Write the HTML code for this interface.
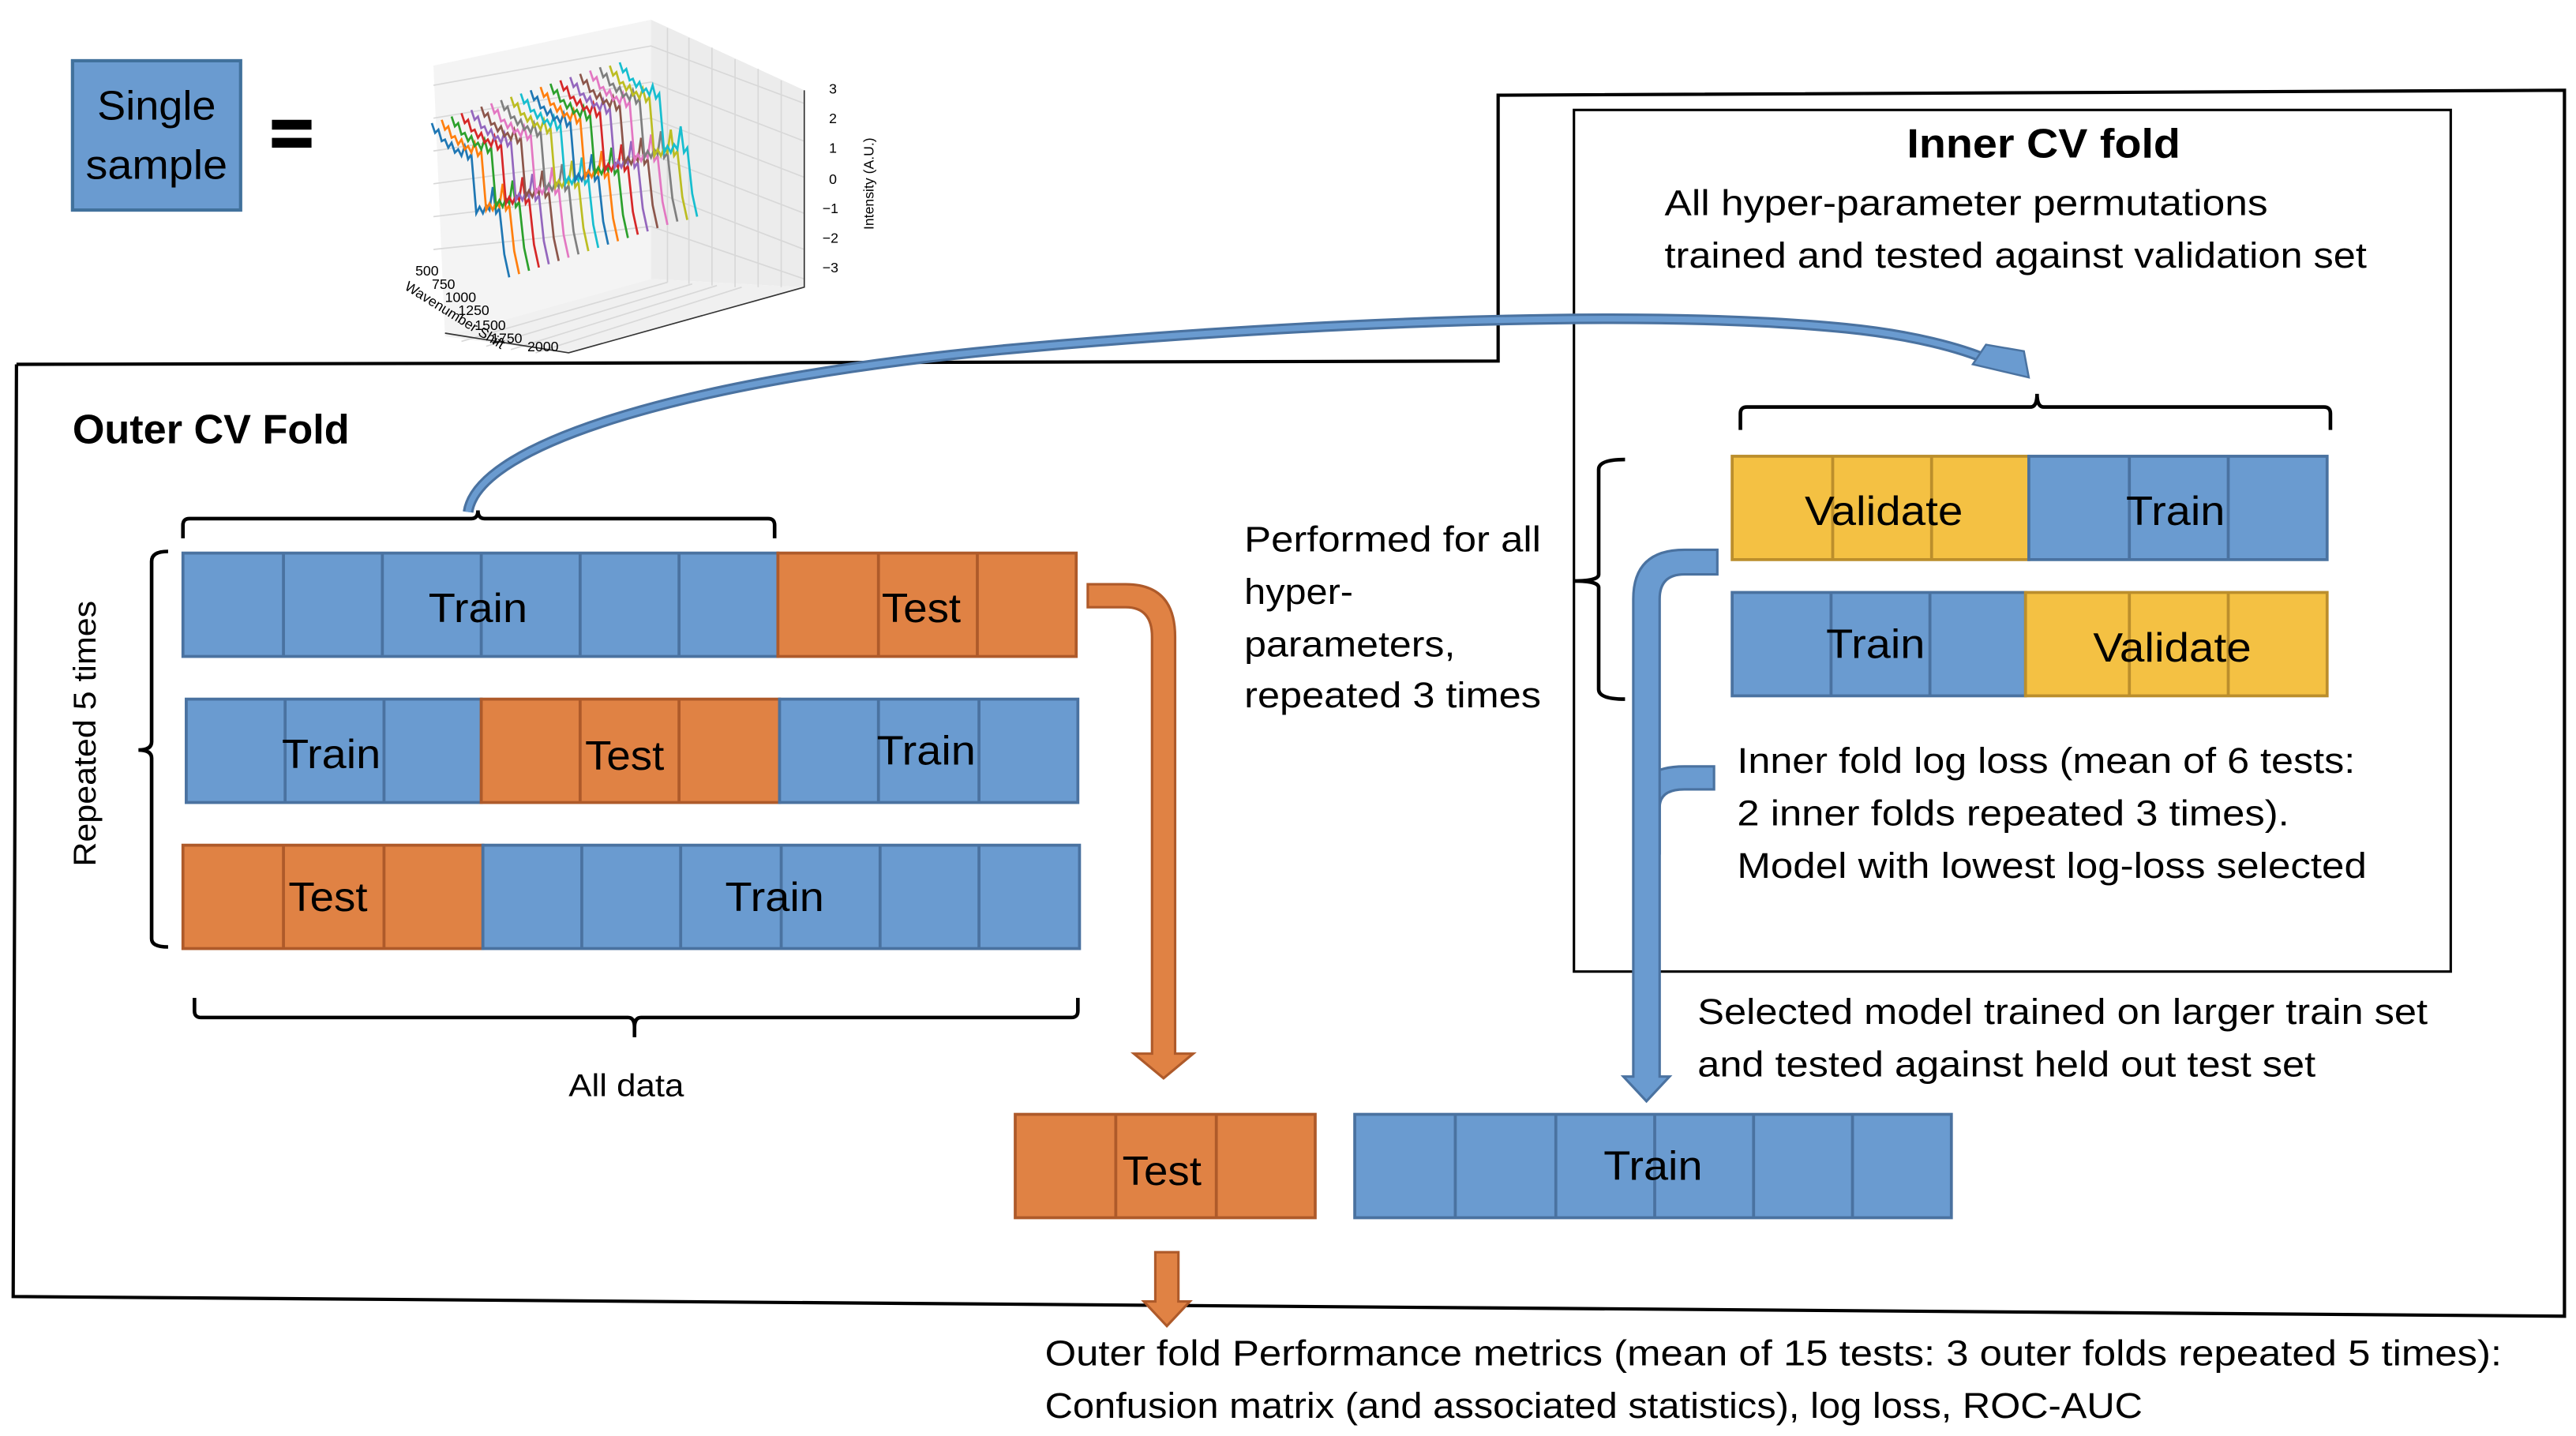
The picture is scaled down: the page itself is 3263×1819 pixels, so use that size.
<!DOCTYPE html>
<html><head><meta charset="utf-8"><style>
html,body{margin:0;padding:0;background:#fff;}
svg{display:block;}
text{font-family:"Liberation Sans",sans-serif;fill:#000;}
</style></head><body>
<svg width="3263" height="1819" viewBox="0 0 1563 875" preserveAspectRatio="none" xmlns="http://www.w3.org/2000/svg">
<defs>
<path id="sp" d="M0,0 l2,6 l2,-2 l2,7 l2,-1 l2,5 l2,-3 l2,6 l2,-2 l2,4 l2,-6 l2,8 l2,-3 l3,36 l2,-4 l2,4 l2,-5 l2,3 l2,-14 l2,16 l2,-3 l3,28 l3,14"/>
</defs>
<!-- Single sample -->
<rect x="44" y="37" width="102" height="91" fill="#6a9bd0" stroke="#41719c" stroke-width="2"/>
<text x="95" y="73" font-size="25" text-anchor="middle" textLength="72" lengthAdjust="spacingAndGlyphs">Single</text>
<text x="95" y="109" font-size="25" text-anchor="middle" textLength="86" lengthAdjust="spacingAndGlyphs">sample</text>
<rect x="165" y="73" width="24" height="6" fill="#000"/>
<rect x="165" y="84" width="24" height="6" fill="#000"/>
<!-- plot -->
<g>
<polygon points="263,40 395,12 395,170 270,205" fill="#f4f4f4"/>
<polygon points="395,12 488,55 488,175 395,170" fill="#ececec"/>
<polygon points="270,205 395,170 488,175 345,215" fill="#f0f0f0"/>
<g stroke="#d8d8d8" stroke-width="0.8" fill="none">
<path d="M263,52 L395,28 L488,63 M263,72 L395,50 L488,86 M263,92 L395,72 L488,108 M263,112 L395,94 L488,130 M263,132 L395,116 L488,152 M263,152 L395,138 L488,170"/>
<path d="M405,17 L405,172 M418,23 L418,173 M432,29 L432,174 M446,36 L446,175 M460,42 L460,175 M474,49 L474,175"/>
<path d="M280,208 L405,172 M295,211 L420,173 M310,213 L435,174 M325,215 L450,175"/>
</g>
<path d="M270,203 L345,215 L488,175 L488,55" stroke="#333" stroke-width="0.8" fill="none"/>
<g fill="none" stroke-width="1.3">
<use href="#sp" transform="translate(262,75)" stroke="#1f77b4"/>
<use href="#sp" transform="translate(268,73)" stroke="#ff7f0e"/>
<use href="#sp" transform="translate(274,71)" stroke="#2ca02c"/>
<use href="#sp" transform="translate(280,69)" stroke="#d62728"/>
<use href="#sp" transform="translate(286,67)" stroke="#9467bd"/>
<use href="#sp" transform="translate(292,65)" stroke="#8c564b"/>
<use href="#sp" transform="translate(298,63)" stroke="#e377c2"/>
<use href="#sp" transform="translate(304,61)" stroke="#7f7f7f"/>
<use href="#sp" transform="translate(310,59)" stroke="#bcbd22"/>
<use href="#sp" transform="translate(316,57)" stroke="#17becf"/>
<use href="#sp" transform="translate(322,55)" stroke="#1f77b4"/>
<use href="#sp" transform="translate(328,53)" stroke="#ff7f0e"/>
<use href="#sp" transform="translate(334,51)" stroke="#2ca02c"/>
<use href="#sp" transform="translate(340,49)" stroke="#d62728"/>
<use href="#sp" transform="translate(346,47)" stroke="#9467bd"/>
<use href="#sp" transform="translate(352,45)" stroke="#8c564b"/>
<use href="#sp" transform="translate(358,43)" stroke="#e377c2"/>
<use href="#sp" transform="translate(364,41)" stroke="#7f7f7f"/>
<use href="#sp" transform="translate(370,40)" stroke="#bcbd22"/>
<use href="#sp" transform="translate(376,38)" stroke="#17becf"/>
</g>
<g font-size="8.5">
<text x="503" y="57">3</text><text x="503" y="75">2</text><text x="503" y="93">1</text><text x="503" y="112">0</text><text x="499" y="130">−1</text><text x="499" y="148">−2</text><text x="499" y="166">−3</text>
<text x="252" y="168">500</text><text x="262" y="176">750</text><text x="270" y="184">1000</text><text x="278" y="192">1250</text><text x="288" y="201">1500</text><text x="298" y="209">1750</text><text x="320" y="214">2000</text>
<text transform="translate(245,176) rotate(32)">Wavenumber Shift</text>
<text transform="translate(530,140) rotate(-90)">Intensity (A.U.)</text>
</g>
</g>
<!-- outer fold outline -->
<path d="M10,222 L909,220 L909,58 L1556,55 L1556,802 L8,790 L10,222" fill="none" stroke="#000" stroke-width="2"/>
<!-- inner box -->
<rect x="955" y="67" width="532" height="525" fill="none" stroke="#000" stroke-width="1.5"/>
<text x="1240" y="96" font-size="25" font-weight="bold" text-anchor="middle" textLength="166" lengthAdjust="spacingAndGlyphs">Inner CV  fold</text>
<text x="1010" y="131" font-size="22" textLength="366" lengthAdjust="spacingAndGlyphs">All hyper-parameter permutations</text>
<text x="1010" y="163" font-size="22" textLength="426" lengthAdjust="spacingAndGlyphs">trained and tested against validation set</text>
<text x="44" y="270" font-size="25" font-weight="bold" textLength="168" lengthAdjust="spacingAndGlyphs">Outer CV Fold</text>
<!-- braces -->
<g fill="none" stroke="#000" stroke-width="2.2">
<path d="M111,328 L111,320 Q111,316 115,316 L286,316 Q290,316 290,311 Q290,316 294,316 L466,316 Q470,316 470,320 L470,328"/>
<path d="M102,336 Q92,336 92,342 L92,452 Q92,457 84,457 Q92,457 92,462 L92,572 Q92,577 102,577"/>
<path d="M118,608 L118,616 Q118,620 122,620 L381,620 Q385,620 385,626 L385,632 M385,626 Q385,620 389,620 L650,620 Q654,620 654,616 L654,608"/>
<path d="M1056,262 L1056,252 Q1056,248 1060,248 L1232,248 Q1236,248 1236,240 Q1236,248 1240,248 L1410,248 Q1414,248 1414,252 L1414,262"/>
<path d="M986,280 Q970,280 970,286 L970,350 Q970,354 955,354 Q970,354 970,358 L970,420 Q970,426 986,426"/>
</g>
<text transform="translate(58,447) rotate(-90)" font-size="19" text-anchor="middle" textLength="162" lengthAdjust="spacingAndGlyphs">Repeated 5 times</text>
<text x="380" y="668" font-size="19" text-anchor="middle" textLength="70" lengthAdjust="spacingAndGlyphs">All data</text>
<!-- outer rows -->
<g stroke-width="1.8">
<rect x="111" y="337" width="361" height="63" fill="#6a9bd0" stroke="#4a72a0"/>
<rect x="472" y="337" width="181" height="63" fill="#e08244" stroke="#ae5a2a"/>
<path d="M172,337V400M232,337V400M292,337V400M352,337V400M412,337V400" stroke="#4a72a0"/>
<path d="M533,337V400M593,337V400" stroke="#ae5a2a"/>
<rect x="113" y="426" width="179" height="63" fill="#6a9bd0" stroke="#4a72a0"/>
<rect x="292" y="426" width="181" height="63" fill="#e08244" stroke="#ae5a2a"/>
<rect x="473" y="426" width="181" height="63" fill="#6a9bd0" stroke="#4a72a0"/>
<path d="M173,426V489M233,426V489M533,426V489M594,426V489" stroke="#4a72a0"/>
<path d="M352,426V489M412,426V489" stroke="#ae5a2a"/>
<rect x="111" y="515" width="182" height="63" fill="#e08244" stroke="#ae5a2a"/>
<rect x="293" y="515" width="362" height="63" fill="#6a9bd0" stroke="#4a72a0"/>
<path d="M172,515V578M233,515V578" stroke="#ae5a2a"/>
<path d="M353,515V578M413,515V578M474,515V578M534,515V578M594,515V578" stroke="#4a72a0"/>
<rect x="616" y="679" width="182" height="63" fill="#e08244" stroke="#ae5a2a"/>
<path d="M677,679V742M738,679V742" stroke="#ae5a2a"/>
<rect x="822" y="679" width="362" height="63" fill="#6a9bd0" stroke="#4a72a0"/>
<path d="M883,679V742M944,679V742M1004,679V742M1064,679V742M1124,679V742" stroke="#4a72a0"/>
<rect x="1051" y="278" width="180" height="63" fill="#f4c143" stroke="#bb8e2c"/>
<rect x="1231" y="278" width="181" height="63" fill="#6a9bd0" stroke="#4a72a0"/>
<path d="M1112,278V341M1172,278V341" stroke="#bb8e2c"/>
<path d="M1292,278V341M1352,278V341" stroke="#4a72a0"/>
<rect x="1051" y="361" width="178" height="63" fill="#6a9bd0" stroke="#4a72a0"/>
<rect x="1229" y="361" width="183" height="63" fill="#f4c143" stroke="#bb8e2c"/>
<path d="M1111,361V424M1171,361V424" stroke="#4a72a0"/>
<path d="M1292,361V424M1352,361V424" stroke="#bb8e2c"/>
</g>
<g font-size="25" text-anchor="middle">
<text x="290" y="379" textLength="60" lengthAdjust="spacingAndGlyphs">Train</text>
<text x="559" y="379" textLength="48" lengthAdjust="spacingAndGlyphs">Test</text>
<text x="201" y="468" textLength="60" lengthAdjust="spacingAndGlyphs">Train</text>
<text x="379" y="469" textLength="48" lengthAdjust="spacingAndGlyphs">Test</text>
<text x="562" y="466" textLength="60" lengthAdjust="spacingAndGlyphs">Train</text>
<text x="199" y="555" textLength="48" lengthAdjust="spacingAndGlyphs">Test</text>
<text x="470" y="555" textLength="60" lengthAdjust="spacingAndGlyphs">Train</text>
<text x="705" y="722" textLength="48" lengthAdjust="spacingAndGlyphs">Test</text>
<text x="1003" y="719" textLength="60" lengthAdjust="spacingAndGlyphs">Train</text>
<text x="1143" y="320" textLength="96" lengthAdjust="spacingAndGlyphs">Validate</text>
<text x="1320" y="320" textLength="60" lengthAdjust="spacingAndGlyphs">Train</text>
<text x="1138" y="401" textLength="60" lengthAdjust="spacingAndGlyphs">Train</text>
<text x="1318" y="403" textLength="96" lengthAdjust="spacingAndGlyphs">Validate</text>
</g>
<g font-size="22">
<text x="755" y="336" textLength="180" lengthAdjust="spacingAndGlyphs">Performed for all</text>
<text x="755" y="368" textLength="66" lengthAdjust="spacingAndGlyphs">hyper-</text>
<text x="755" y="400" textLength="128" lengthAdjust="spacingAndGlyphs">parameters,</text>
<text x="755" y="431" textLength="180" lengthAdjust="spacingAndGlyphs">repeated 3 times</text>
<text x="1054" y="471" textLength="375" lengthAdjust="spacingAndGlyphs">Inner fold log loss (mean of 6 tests:</text>
<text x="1054" y="503" textLength="335" lengthAdjust="spacingAndGlyphs">2 inner folds repeated 3 times).</text>
<text x="1054" y="535" textLength="382" lengthAdjust="spacingAndGlyphs">Model with lowest log-loss selected</text>
<text x="1030" y="624" textLength="443" lengthAdjust="spacingAndGlyphs">Selected model trained on larger train set</text>
<text x="1030" y="656" textLength="375" lengthAdjust="spacingAndGlyphs">and tested against held out test set</text>
<text x="634" y="832" textLength="884" lengthAdjust="spacingAndGlyphs">Outer fold Performance metrics (mean of 15 tests: 3 outer folds repeated 5 times):</text>
<text x="634" y="864" textLength="666" lengthAdjust="spacingAndGlyphs">Confusion matrix (and associated statistics), log loss, ROC-AUC</text>
</g>
<!-- orange arrow -->
<path d="M660,370 L683,370 Q699,370 699,388 L699,642 L688,642 L706,657 L724,642 L713,642 L713,388 Q713,356 683,356 L660,356 Z" fill="#e08244" stroke="#ae5a2a" stroke-width="1.5"/>
<path d="M701,763 L715,763 L715,793 L722,793 L708,808 L694,793 L701,793 Z" fill="#e08244" stroke="#ae5a2a" stroke-width="1.5"/>
<!-- blue vertical arrow -->
<path d="M1040,467 L1022,467 Q992,467 992,492 L992,520 L1007,520 L1007,492 Q1007,481 1022,481 L1040,481 Z" fill="#6a9bd0" stroke="#4a72a0" stroke-width="1.5"/>
<path d="M1042,335 L1022,335 Q991,335 991,365 L991,656 L985,656 L999,671 L1013,656 L1007,656 L1007,365 Q1007,350 1022,350 L1042,350 Z" fill="#6a9bd0" stroke="#4a72a0" stroke-width="1.5"/>
<path d="M993,482 L1006,482 L1006,505 L993,505 Z" fill="#6a9bd0"/>
<!-- blue curved arrow -->
<path d="M284,312 C290,270 420,230 620,212 C800,196 1000,188 1120,200 C1160,204 1190,212 1208,220" fill="none" stroke="#4a72a0" stroke-width="6.5"/>
<path d="M284,312 C290,270 420,230 620,212 C800,196 1000,188 1120,200 C1160,204 1190,212 1208,220" fill="none" stroke="#6a9bd0" stroke-width="3.5"/>
<path d="M1205,210 L1228,214 L1231,230 L1197,222 Z" fill="#6a9bd0" stroke="#4a72a0" stroke-width="1.2"/>
</svg>
</body></html>
